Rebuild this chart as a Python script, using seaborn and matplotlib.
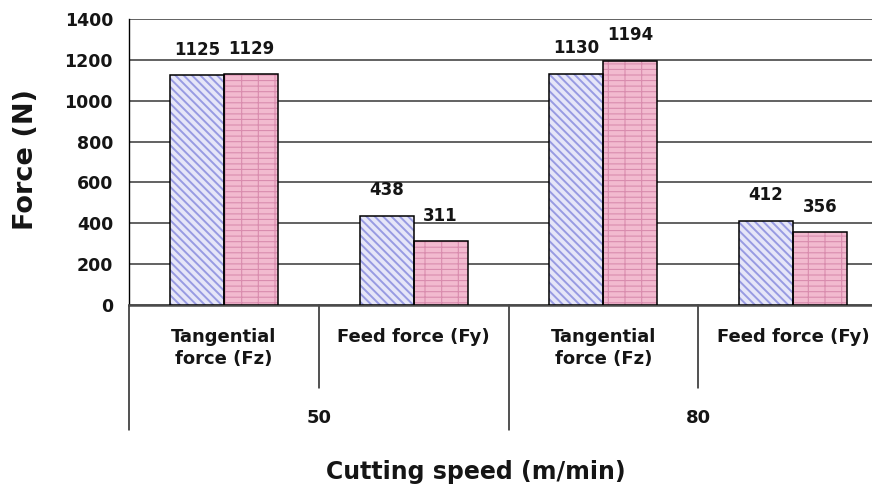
import matplotlib
matplotlib.use("Agg")
import matplotlib.pyplot as plt
import matplotlib.transforms as mtransforms
from matplotlib.patches import Rectangle
import pandas as pd
import seaborn as sns

# ---- data -------------------------------------------------------------
speeds = ["50", "80"]
force_types = ["Tangential\nforce (Fz)", "Feed force (Fy)"]
series_names = ["Series 1", "Series 2"]
series1 = [1125, 438, 1130, 412]
series2 = [1129, 311, 1194, 356]
y_ticks = [0, 200, 400, 600, 800, 1000, 1200, 1400]

categories = [f"{s}|{f}" for s in speeds for f in force_types]
df = pd.DataFrame({
    "category": categories * 2,
    "series": [series_names[0]] * len(series1) + [series_names[1]] * len(series2),
    "force": series1 + series2,
})

# ---- style ------------------------------------------------------------
sns.set_theme(style="white")
plt.rcParams["font.family"] = ["DejaVu Sans"]
plt.rcParams["font.weight"] = "bold"
plt.rcParams["hatch.linewidth"] = 1.0
text_color = "#151515"

face_colors = ["#e6e6f8", "#f2bacf"]
# (hatch pattern, hatch colour, hatch line width)
hatch_styles = [("\\\\\\\\", "#989be2", 1.4), ("---|", "#d98cae", 0.8)]

fig = plt.figure(figsize=(8.72, 4.95), dpi=100)
ax = fig.add_axes([129 / 872, 1 - 305 / 495, 759 / 872, 286 / 495])

sns.barplot(
    data=df, x="category", y="force", hue="series",
    order=categories, hue_order=series_names,
    palette=face_colors, saturation=1, width=0.57,
    legend=False, ax=ax, zorder=3,
)

# hatch fills, black outlines and value labels
for cont, (hatch, hcol, hlw) in zip(ax.containers, hatch_styles):
    for bar in cont:
        bar.set_hatch(hatch)
        bar.set_edgecolor(hcol)
        bar.set_linewidth(0)
        if hasattr(bar, "set_hatch_linewidth"):
            bar.set_hatch_linewidth(hlw)
        else:
            bar._hatch_linewidth = hlw
        ax.add_patch(Rectangle(bar.get_xy(), bar.get_width(), bar.get_height(),
                               fill=False, edgecolor="black", linewidth=1.1, zorder=4))
    ax.bar_label(cont, labels=[f"{v:.0f}" for v in cont.datavalues],
                 padding=12, fontsize=12, fontweight="bold", color=text_color)

# ---- axes -------------------------------------------------------------
ax.set_ylim(0, 1400)
ax.set_xlim(-0.5, len(categories) - 0.5)
ax.set_yticks(y_ticks)
ax.yaxis.grid(True, color="#555555", linewidth=1.3)
ax.set_axisbelow(True)

for side in ["top", "right"]:
    ax.spines[side].set_visible(False)
ax.spines["left"].set_color("black")
ax.spines["left"].set_linewidth(1.0)
ax.spines["bottom"].set_color("#4a4a4a")
ax.spines["bottom"].set_linewidth(1.8)

ax.tick_params(axis="y", direction="out", length=5, width=1, color="black",
               labelsize=12.5, pad=6.5, labelcolor=text_color)
ax.set_xticks(range(len(categories)))
ax.set_xticklabels([c.split("|")[1] for c in categories])
ax.tick_params(axis="x", length=0, pad=16.5, labelsize=13, labelcolor=text_color)
for t in ax.get_xticklabels():
    t.set_linespacing(1.3)
    t.set_fontweight("bold")
for t in ax.get_yticklabels():
    t.set_fontweight("bold")
ax.set_xlabel("")
ax.set_ylabel("")

# hierarchical category axis: separators and speed labels
trans = mtransforms.blended_transform_factory(ax.transData, ax.transAxes)
n_sub = len(force_types)
short_drop = -83 / 286
long_drop = -125 / 286
for i in range(len(categories) + 1):
    x = i - 0.5
    drop = long_drop if i % n_sub == 0 else short_drop
    ax.plot([x, x], [0, drop], transform=trans, clip_on=False,
            color="#222222", linewidth=1.1)
for g, speed in enumerate(speeds):
    center = g * n_sub + (n_sub - 1) / 2
    ax.text(center, -(418 - 305) / 286, speed, transform=trans,
            ha="center", va="center", fontsize=13, fontweight="bold", color=text_color)

# axis titles
fig.text(476 / 872, 1 - 472 / 495, "Cutting speed (m/min)", ha="center", va="center",
         fontsize=17, fontweight="bold", color=text_color)
fig.text(26 / 872, 1 - 159 / 495, "Force (N)", rotation=90, ha="center", va="center",
         fontsize=19.5, fontweight="bold", color=text_color)

fig.savefig("out.png", dpi=100)
